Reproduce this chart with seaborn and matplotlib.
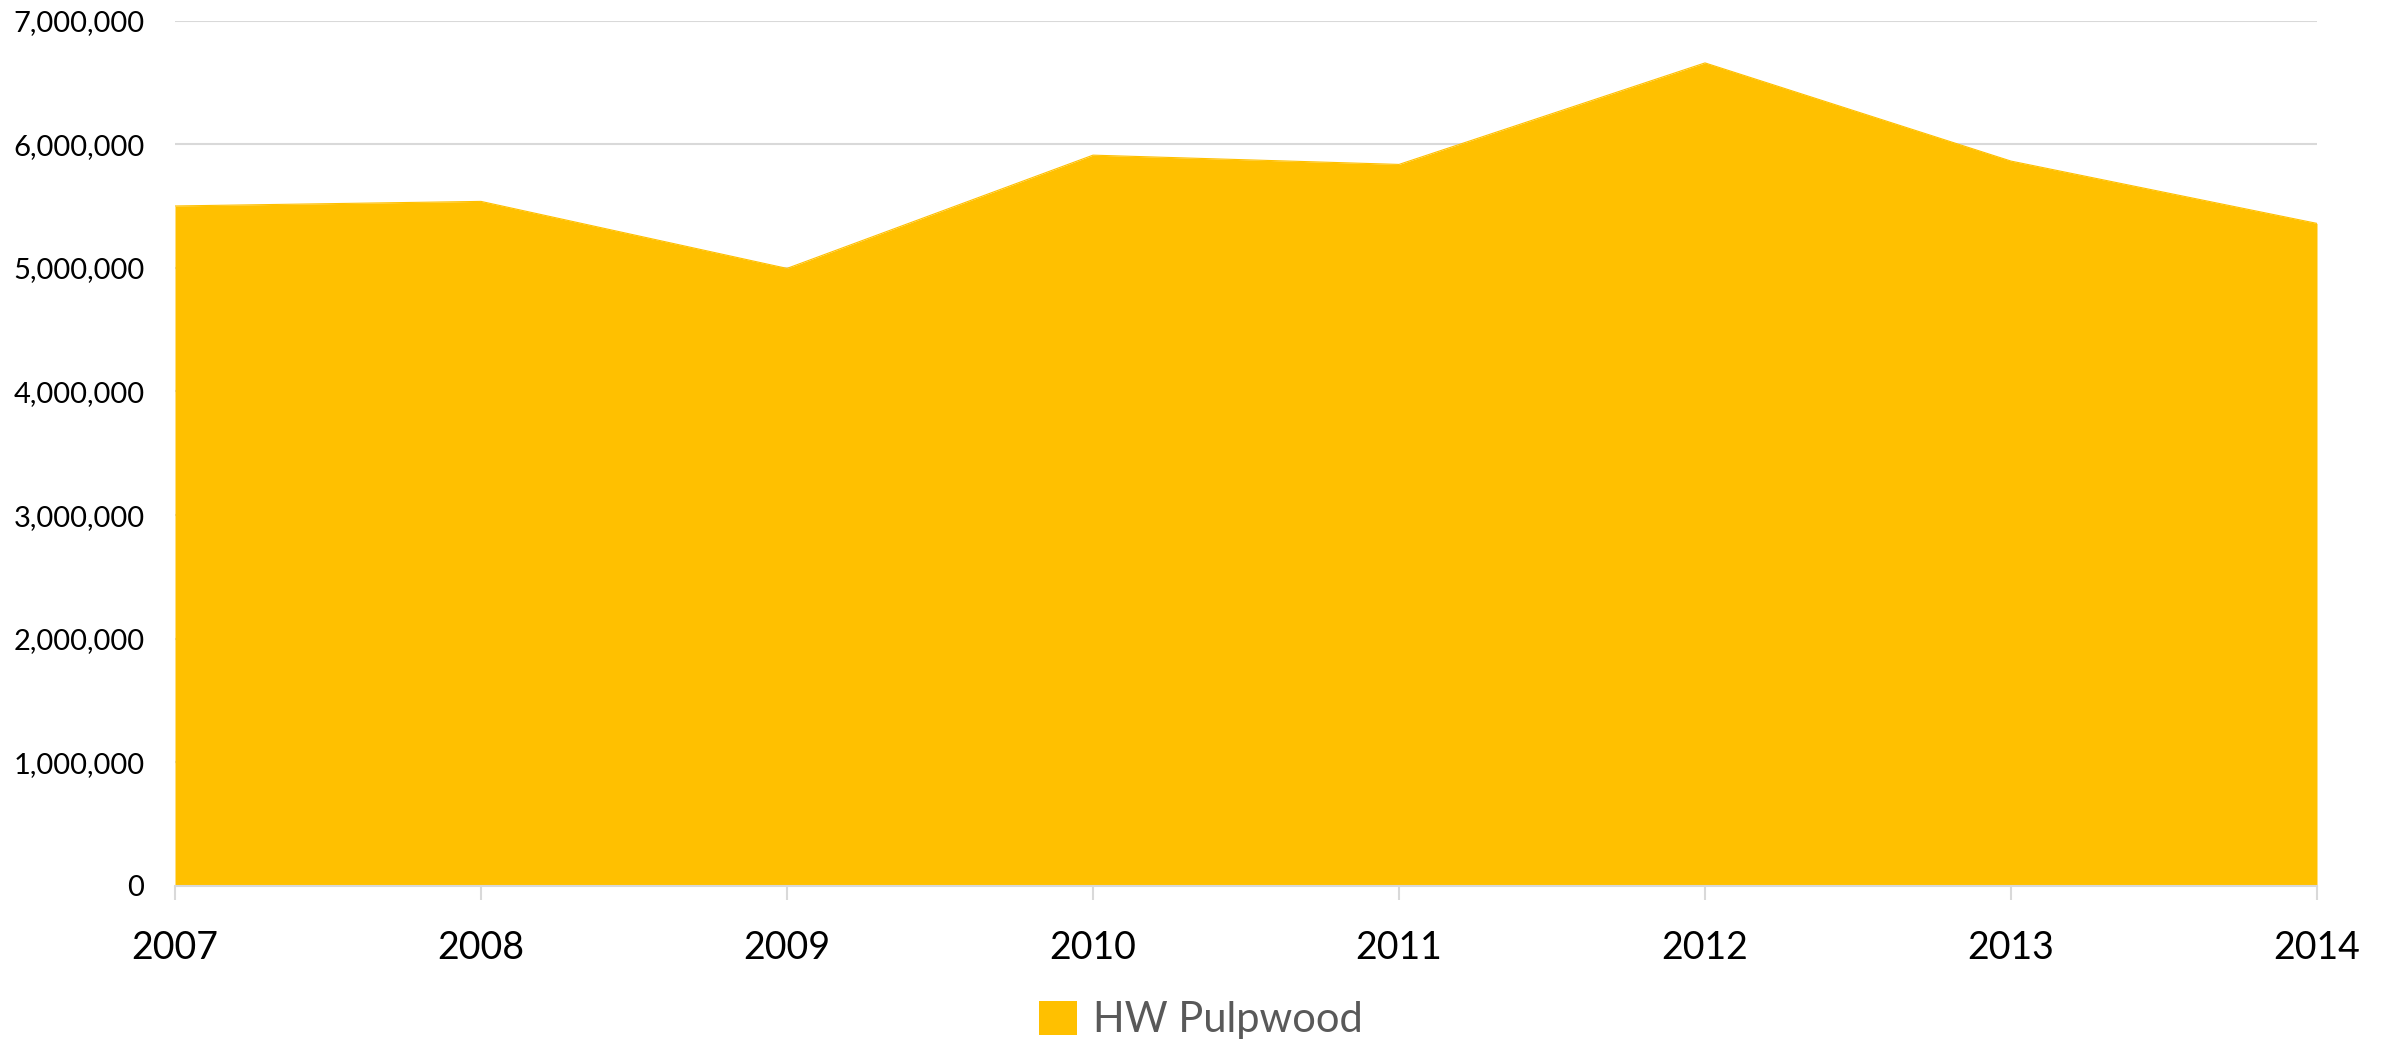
import matplotlib
matplotlib.use("Agg")
import matplotlib.pyplot as plt
from matplotlib.patches import Patch
from matplotlib.ticker import FuncFormatter
import seaborn as sns
import pandas as pd

# Hardwood pulpwood volume by year
years = [2007, 2008, 2009, 2010, 2011, 2012, 2013, 2014]
hw_pulpwood = [5500000, 5537000, 4995000, 5911000, 5836000, 6657000, 5863000, 5359000]
series_name = "HW Pulpwood"
y_ticks = [0, 1000000, 2000000, 3000000, 4000000, 5000000, 6000000, 7000000]

df = pd.DataFrame({"year": years, "volume": hw_pulpwood})

sns.set_theme(style="white")
plt.rcParams["font.family"] = ["Lato", "DejaVu Sans"]

fill_color = "#FFC000"
grid_color = "#D9D9D9"

fig = plt.figure(figsize=(23.94, 10.43), dpi=100)
ax = fig.add_axes([175 / 2394, 1 - 886 / 1043, (2317 - 175) / 2394, (886 - 20.5) / 1043])

sns.lineplot(data=df, x="year", y="volume", ax=ax, color=fill_color, linewidth=0.8, zorder=3)
ax.fill_between(df["year"], 0, df["volume"], color=fill_color, linewidth=0, zorder=2)

ax.set_xlim(years[0], years[-1])
ax.set_ylim(0, 7000000)
ax.set_yticks(y_ticks)
ax.yaxis.set_major_formatter(FuncFormatter(lambda v, p: f"{int(v):,}"))
ax.set_xticks(years)
ax.set_xticklabels([str(y) for y in years])

ax.grid(axis="y", color=grid_color, linewidth=1.5, zorder=0)
ax.grid(axis="x", visible=False)
ax.set_axisbelow(True)

for side in ["top", "right", "left"]:
    ax.spines[side].set_visible(False)
ax.spines["bottom"].set_color(grid_color)
ax.spines["bottom"].set_linewidth(1.5)

ax.tick_params(axis="y", length=0, pad=22, labelsize=21, labelcolor="#000000")
ax.tick_params(axis="x", length=10, width=1.5, color=grid_color, pad=22,
               labelsize=27, labelcolor="#000000", bottom=True)

ax.set_xlabel("")
ax.set_ylabel("")

handle = Patch(facecolor=fill_color, edgecolor="none", label=series_name)
fig.legend(handles=[handle], loc="center", bbox_to_anchor=(1201 / 2394, 1 - 1020 / 1043),
           frameon=False, fontsize=30, labelcolor="#595959",
           handlelength=0.9, handleheight=0.9, handletextpad=0.4)

fig.savefig("out.png", dpi=100)
